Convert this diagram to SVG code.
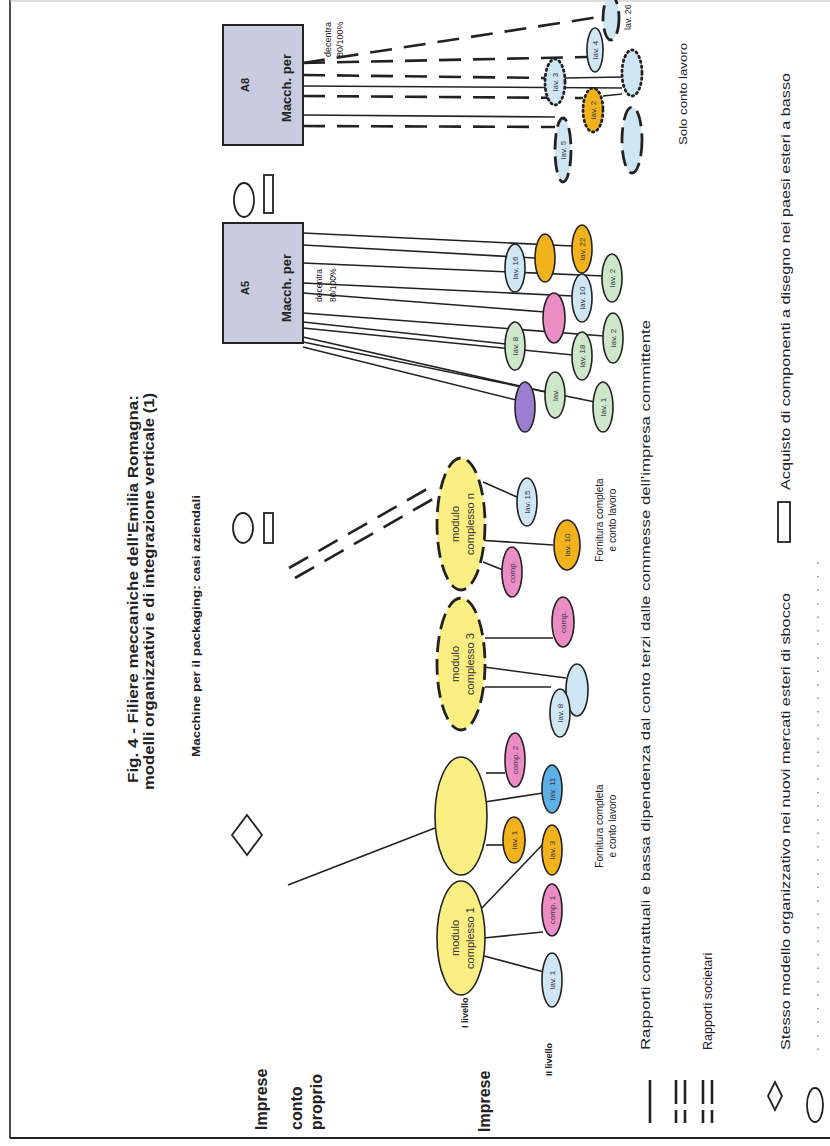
<svg xmlns="http://www.w3.org/2000/svg" width="830" height="1146" viewBox="0 0 830 1146">
<style>
text{font-family:"Liberation Sans",Arial,sans-serif;fill:#222}
.b{font-weight:bold}
.nt{font-size:8px;fill:#334;text-anchor:middle}
.mt{font-size:11px;fill:#333;text-anchor:middle}
.c{stroke:#222;stroke-width:1.6;fill:none}
.cd{stroke:#222;stroke-width:2.6;fill:none;stroke-dasharray:22 12}
.sym{fill:#fff;stroke:#222;stroke-width:1.8}
.lb{fill:#cfe6f5;stroke:#222;stroke-width:1.6}
.bl{fill:#5fb0e6;stroke:#222;stroke-width:1.6}
.or{fill:#f2b21c;stroke:#222;stroke-width:1.6}
.pk{fill:#ec8cc4;stroke:#222;stroke-width:1.6}
.gr{fill:#cde8c9;stroke:#222;stroke-width:1.6}
.pu{fill:#9a7fd1;stroke:#222;stroke-width:1.6}
.ye{fill:#fbef83;stroke:#222;stroke-width:1.6}
.yed{fill:#fbef83;stroke:#222;stroke-width:2.8;stroke-dasharray:16 7}
.dsh{stroke-width:2.8;stroke-dasharray:16 7}
.dot{stroke-width:2.8;stroke-dasharray:1.5 3.5;stroke-linecap:round}
.box{fill:#c9cbe0;stroke:#222;stroke-width:2}
</style>

<g id="frame">
<line x1="10" y1="0" x2="10" y2="1138" stroke="#222" stroke-width="1.6"/>
<line x1="10" y1="1138" x2="830" y2="1138" stroke="#222" stroke-width="1.8"/>
<line x1="10" y1="1" x2="830" y2="1" stroke="#bbb" stroke-width="1"/>
</g>

<g id="title">
<text class="b" font-size="14" transform="translate(138,783) rotate(-90)" textLength="388" lengthAdjust="spacingAndGlyphs">Fig. 4 - Filiere meccaniche dell'Emilia Romagna:</text>
<text class="b" font-size="14" transform="translate(154,790) rotate(-90)" textLength="397" lengthAdjust="spacingAndGlyphs">modelli organizzativi e di integrazione verticale (1)</text>
<text class="b" font-size="10.5" transform="translate(200,757) rotate(-90)" textLength="262" lengthAdjust="spacingAndGlyphs">Macchine per il packaging: casi aziendali</text>
</g>

<g id="row-labels">
<text class="b" font-size="16" transform="translate(267,1130) rotate(-90)">Imprese</text>
<text class="b" font-size="16" transform="translate(302,1130) rotate(-90)">conto</text>
<text class="b" font-size="16" transform="translate(322,1130) rotate(-90)">proprio</text>
<text class="b" font-size="16" transform="translate(490,1132) rotate(-90)">Imprese</text>
<text class="b" font-size="9" transform="translate(552,1076) rotate(-90)">II livello</text>
</g>

<g id="sym-diamond"><polygon class="sym" points="247,815 262,835 247,855 232,835"/></g>
<g id="sym-oval-a5"><ellipse class="sym" cx="244" cy="200" rx="10" ry="17"/><rect class="sym" x="264" y="175" width="9" height="38"/></g>
<g id="sym-oval-mod"><ellipse class="sym" cx="243" cy="528" rx="10" ry="15"/><rect class="sym" x="264" y="513" width="9" height="30"/></g>

<g id="connectors">
<path class="cd" d="M303,63 L605,16"/>
<path class="cd" d="M303,63 L587,57"/>
<path class="cd" d="M303,75 L545,78"/>
<path class="c" d="M565,78 L622,77"/>
<path class="c" stroke-width="2.4" d="M303,86 L622,88"/>
<path class="cd" stroke-width="3.4" d="M303,96 L583,98"/>
<path class="c" d="M603,96 L622,94"/>
<path class="c" stroke-width="2.2" d="M303,115 L555,117"/>
<path class="cd" d="M303,126 L555,127"/>
<path class="c" d="M303,233 L572,246"/>
<path class="c" d="M303,245 L535,258"/>
<path class="c" d="M303,263 L604,276"/>
<path class="c" d="M303,283 L573,296"/>
<path class="c" d="M303,293 L545,312"/>
<path class="c" d="M303,313 L604,336"/>
<path class="c" d="M303,322 L506,344"/>
<path class="c" d="M303,328 L573,355"/>
<path class="c" d="M303,337 L546,392"/>
<path class="c" d="M303,342 L595,402"/>
<path class="c" d="M303,347 L516,400"/>
<path class="cd" stroke-width="2.6" stroke-dasharray="24 18" d="M289,568 L427,489"/>
<path class="cd" stroke-width="2.6" stroke-dasharray="24 18" d="M295,578 L433,499"/>
<path class="c" d="M483,482 L517,497"/>
<path class="c" d="M477,540 L553,545"/>
<path class="c" d="M483,562 L503,570"/>
<path class="c" d="M485,638 L553,638"/>
<path class="c" d="M484,667 L566,678"/>
<path class="c" d="M485,687 L551,687"/>
<path class="c" d="M288,885 L435,828"/>
<path class="c" d="M486,773 L505,773"/>
<path class="c" d="M478,803 L543,793"/>
<path class="c" d="M486,845 L503,845"/>
<path class="c" d="M480,910 L545,842"/>
<path class="c" d="M484,938 L543,932"/>
<path class="c" d="M484,956 L544,972"/>
</g>

<g id="A8">
<rect class="box" x="223" y="25" width="80" height="120"/>
<text class="b" font-size="11" text-anchor="middle" transform="translate(249,85) rotate(-90)">A8</text>
<text class="b" font-size="13" text-anchor="middle" transform="translate(291,88) rotate(-90)">Macch. per</text>
<text font-size="9" transform="translate(331,57) rotate(-90)">decentra</text>
<text font-size="9" transform="translate(343,57) rotate(-90)">80/100%</text>
</g>
<g id="A5">
<rect class="box" x="223" y="223" width="80" height="120"/>
<text class="b" font-size="11" text-anchor="middle" transform="translate(249,288) rotate(-90)">A5</text>
<text class="b" font-size="13" text-anchor="middle" transform="translate(291,288) rotate(-90)">Macch. per</text>
<text font-size="8.5" transform="translate(322,302) rotate(-90)">decentra</text>
<text font-size="8.5" transform="translate(336,302) rotate(-90)">80/100%</text>
</g>

<g id="a8-n1"><ellipse class="lb dsh" cx="611" cy="18" rx="8" ry="22"/></g>
<g id="a8-n2"><ellipse class="lb" cx="595" cy="50" rx="8" ry="22" stroke-width="2.4"/><text class="nt" transform="translate(598,50) rotate(-90)">lav. 4</text></g>
<g id="a8-n3"><ellipse class="lb dot" cx="555" cy="82" rx="10" ry="23"/><text class="nt" transform="translate(558,82) rotate(-90)">lav. 3</text></g>
<g id="a8-n4"><ellipse class="lb dot" cx="632" cy="73" rx="10" ry="23"/></g>
<g id="a8-n5"><ellipse class="or dot" cx="593" cy="110" rx="10" ry="22"/><text class="nt" transform="translate(596,110) rotate(-90)">lav. 2</text></g>
<g id="a8-n6"><ellipse class="lb dsh" cx="563" cy="150" rx="8" ry="32"/><text class="nt" transform="translate(566,150) rotate(-90)">lav. 5</text></g>
<g id="a8-n7"><ellipse class="lb dsh" cx="632" cy="140" rx="10" ry="33"/></g>
<text font-size="9" transform="translate(631,30) rotate(-90)">lav. 26</text>
<text font-size="10.5" transform="translate(687,145) rotate(-90)" textLength="102" lengthAdjust="spacingAndGlyphs">Solo conto lavoro</text>

<g id="a5-n1"><ellipse class="lb" cx="515" cy="268" rx="10" ry="24"/><text class="nt" transform="translate(518,268) rotate(-90)">lav. 16</text></g>
<g id="a5-n2"><ellipse class="or" cx="545" cy="258" rx="10" ry="24"/></g>
<g id="a5-n3"><ellipse class="or" cx="582" cy="249" rx="10" ry="24"/><text class="nt" transform="translate(585,249) rotate(-90)">lav. 22</text></g>
<g id="a5-n4"><ellipse class="gr" cx="612" cy="278" rx="10" ry="24"/><text class="nt" transform="translate(615,278) rotate(-90)">lav. 2</text></g>
<g id="a5-n5"><ellipse class="lb" cx="582" cy="298" rx="10" ry="24"/><text class="nt" transform="translate(585,298) rotate(-90)">lav. 10</text></g>
<g id="a5-n6"><ellipse class="pk" cx="554" cy="318" rx="11" ry="25"/></g>
<g id="a5-n7"><ellipse class="gr" cx="613" cy="338" rx="10" ry="25"/><text class="nt" transform="translate(616,338) rotate(-90)">lav. 2</text></g>
<g id="a5-n8"><ellipse class="gr" cx="515" cy="346" rx="10" ry="24"/><text class="nt" transform="translate(518,346) rotate(-90)">lav. 8</text></g>
<g id="a5-n9"><ellipse class="gr" cx="582" cy="356" rx="10" ry="24"/><text class="nt" transform="translate(585,356) rotate(-90)">lav. 18</text></g>
<g id="a5-n10"><ellipse class="gr" cx="555" cy="395" rx="10" ry="23"/><text class="nt" transform="translate(558,395) rotate(-90)">lav.</text></g>
<g id="a5-n11"><ellipse class="pu" cx="525" cy="407" rx="10" ry="25"/></g>
<g id="a5-n12"><ellipse class="gr" cx="603" cy="407" rx="10" ry="25"/><text class="nt" transform="translate(606,407) rotate(-90)">lav. 1</text></g>

<g id="modulo-n"><ellipse class="yed" cx="461" cy="524" rx="24" ry="66"/><text class="mt" transform="translate(459,524) rotate(-90)">modulo</text><text class="mt" transform="translate(474,524) rotate(-90)">complesso n</text></g>
<g id="modulo-3"><ellipse class="yed" cx="461" cy="664" rx="24" ry="66"/><text class="mt" transform="translate(459,664) rotate(-90)">modulo</text><text class="mt" transform="translate(474,664) rotate(-90)">complesso 3</text></g>
<g id="big-ellipse"><ellipse class="ye" cx="461" cy="816" rx="26" ry="59"/></g>
<g id="modulo-1"><ellipse class="ye" cx="461" cy="938" rx="24" ry="57"/><text class="mt" transform="translate(459,938) rotate(-90)">modulo</text><text class="mt" transform="translate(474,938) rotate(-90)">complesso 1</text></g>
<text class="b" font-size="9" transform="translate(468,1028) rotate(-90)">I livello</text>

<g id="mn-lav15"><ellipse class="lb" cx="527" cy="502" rx="10" ry="24"/><text class="nt" transform="translate(530,502) rotate(-90)">lav. 15</text></g>
<g id="mn-lav10"><ellipse class="or" cx="567" cy="545" rx="13" ry="25"/><text class="nt" transform="translate(570,545) rotate(-90)">lav. 10</text></g>
<g id="mn-comp"><ellipse class="pk" cx="512" cy="572" rx="10" ry="25"/><text class="nt" transform="translate(515,572) rotate(-90)">comp.</text></g>
<g id="m3-comp"><ellipse class="pk" cx="563" cy="622" rx="11" ry="25"/><text class="nt" transform="translate(566,622) rotate(-90)">comp.</text></g>
<g id="m3-pale"><ellipse class="lb" cx="577" cy="690" rx="11" ry="26"/></g>
<g id="m3-lav8"><ellipse class="lb" cx="560" cy="713" rx="10" ry="24"/><text class="nt" transform="translate(563,713) rotate(-90)">lav. 8</text></g>
<g id="be-comp2"><ellipse class="pk" cx="515" cy="760" rx="10" ry="27"/><text class="nt" transform="translate(518,760) rotate(-90)">comp. 2</text></g>
<g id="be-lav11"><ellipse class="bl" cx="552" cy="789" rx="10" ry="24"/><text class="nt" transform="translate(555,789) rotate(-90)">lav. 11</text></g>
<g id="be-lav1"><ellipse class="or" cx="514" cy="840" rx="11" ry="23"/><text class="nt" transform="translate(517,840) rotate(-90)">lav. 1</text></g>
<g id="m1-lav3"><ellipse class="or" cx="552" cy="850" rx="10" ry="25"/><text class="nt" transform="translate(555,850) rotate(-90)">lav. 3</text></g>
<g id="m1-comp"><ellipse class="pk" cx="552" cy="910" rx="10" ry="26"/><text class="nt" transform="translate(555,910) rotate(-90)">comp. 1</text></g>
<g id="m1-lav1"><ellipse class="lb" cx="552" cy="980" rx="10" ry="27"/><text class="nt" transform="translate(555,980) rotate(-90)">lav. 1</text></g>

<g id="captions">
<text font-size="10" text-anchor="middle" transform="translate(603,826) rotate(-90)">Fornitura completa</text>
<text font-size="10" text-anchor="middle" transform="translate(616,826) rotate(-90)">e conto lavoro</text>
<text font-size="10" text-anchor="middle" transform="translate(603,520) rotate(-90)">Fornitura completa</text>
<text font-size="10" text-anchor="middle" transform="translate(616,520) rotate(-90)">e conto lavoro</text>
</g>

<g id="legend">
<line x1="650" y1="1080" x2="650" y2="1123" stroke="#222" stroke-width="2.6"/>
<text font-size="12.5" transform="translate(650,1050) rotate(-90)" textLength="730" lengthAdjust="spacingAndGlyphs">Rapporti contrattuali e bassa dipendenza dal conto terzi dalle commesse dell'impresa committente</text>
<path d="M676,1080 V1104 M676,1110 V1123 M685,1080 V1104 M685,1110 V1123" stroke="#222" stroke-width="2.6" fill="none"/>
<path d="M703,1080 V1104 M703,1110 V1123 M712,1080 V1104 M712,1110 V1123" stroke="#222" stroke-width="2.6" fill="none"/>
<text font-size="12.5" transform="translate(712,1050) rotate(-90)">Rapporti societari</text>
<polygon class="sym" points="775,1082 782,1096 775,1110 768,1096"/>
<text font-size="12" transform="translate(790,1050) rotate(-90)" textLength="457" lengthAdjust="spacingAndGlyphs">Stesso modello organizzativo nei nuovi mercati esteri di sbocco</text>
<rect class="sym" x="778" y="502" width="12" height="40"/>
<text font-size="12" transform="translate(790,490) rotate(-90)" textLength="417" lengthAdjust="spacingAndGlyphs">Acquisto di componenti a disegno nei paesi esteri a basso</text>
<ellipse class="sym" cx="815" cy="1105" rx="8" ry="17"/>
<line x1="818" y1="1050" x2="818" y2="560" stroke="#888" stroke-width="1.6" stroke-dasharray="1.5 12"/>
</g>
</svg>
